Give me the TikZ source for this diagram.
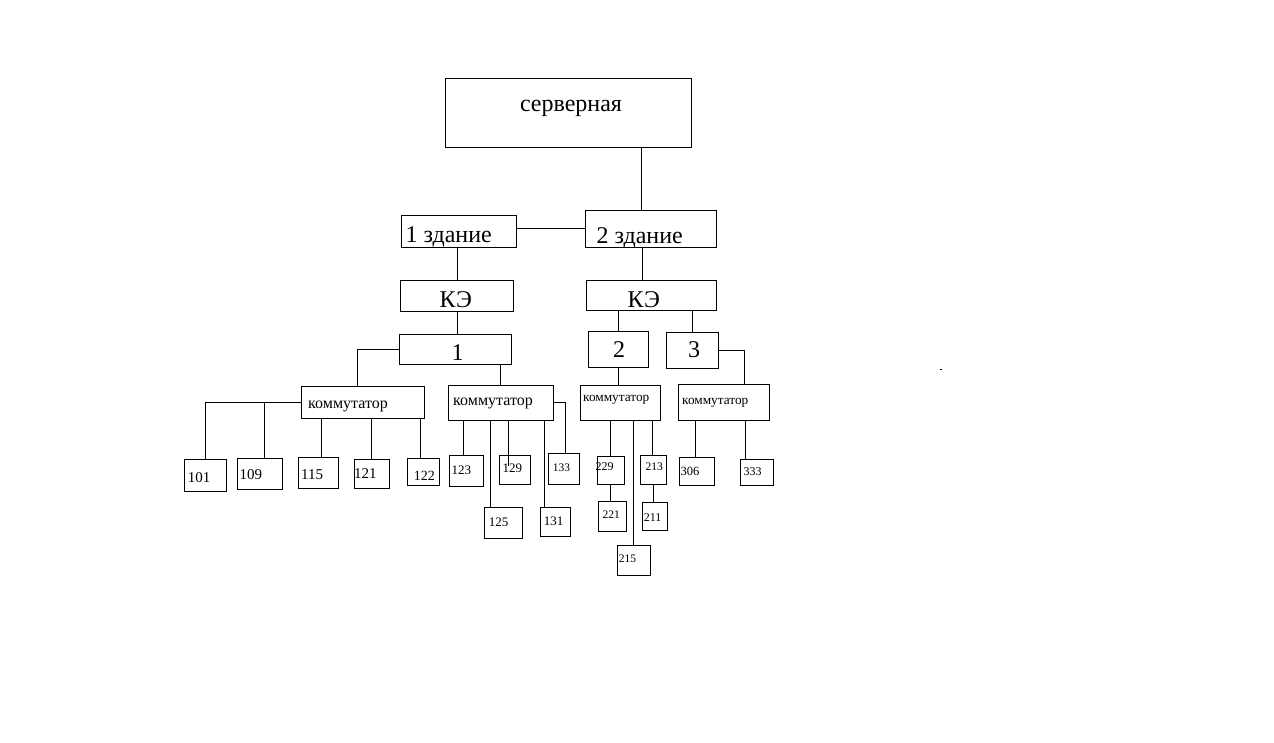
\documentclass[tikz,border=0pt]{standalone}
\usepackage{fontspec}
\setmainfont{Liberation Serif}
\usetikzlibrary{fit}
\begin{document}
\begin{tikzpicture}[x=1pt, y=-1pt, line width=1pt,
    cell/.style={draw, inner sep=0pt},
    lbl/.style={inner sep=0pt, font=\fontsize{#1}{#1}\selectfont}]
    \useasboundingbox (0,0) rectangle (1274,742);
    % server room, buildings, KE
    \node[cell, fit={(445,78) (691,147)}] (srv) {}; \node[lbl=24, anchor=base] (srvT) at (571,111) {серверная};
    \node[cell, fit={(401.7,215.3) (516.3,247.3)}] (zd1) {}; \node[lbl=24, anchor=base west] (zd1T) at (405,242.5) {1 здание};
    \node[cell, fit={(585.7,210.3) (716.3,247.3)}] (zd2) {}; \node[lbl=24, anchor=base west] (zd2T) at (596,243) {2 здание};
    \node[cell, fit={(400.7,280.3) (513.3,311)}] (ke1) {}; \node[lbl=24, anchor=base] (ke1T) at (455.8,307) {КЭ};
    \node[cell, fit={(586.3,280.3) (716.3,310.3)}] (ke2) {}; \node[lbl=24, anchor=base] (ke2T) at (643.8,307) {КЭ};
    \node[cell, fit={(399.3,334.7) (511.7,364.3)}] (g1) {}; \node[lbl=24, anchor=base] (g1T) at (457.5,360) {1};
    \node[cell, fit={(588.3,331.7) (648.3,367.3)}] (g2) {}; \node[lbl=24, anchor=base] (g2T) at (619,357) {2};
    \node[cell, fit={(666.3,332.3) (718.3,368.3)}] (g3) {}; \node[lbl=24, anchor=base] (g3T) at (694,357.7) {3};
    % switches
    \node[cell, fit={(301.3,386.3) (424.3,418.3)}] (k1) {}; \node[lbl=16, anchor=base west] (k1T) at (307.7,408.3) {коммутатор};
    \node[cell, fit={(448.3,385.3) (553.3,420.3)}] (k2) {}; \node[lbl=16, anchor=base west] (k2T) at (452.7,405) {коммутатор};
    \node[cell, fit={(580.3,385.3) (660.3,420)}] (k3) {}; \node[lbl=13.3, anchor=base west] (k3T) at (582.7,401.7) {коммутатор};
    \node[cell, fit={(678.3,384.3) (769.3,420.3)}] (k4) {}; \node[lbl=13.3, anchor=base west] (k4T) at (681.7,404) {коммутатор};
    % rooms
    \node[cell, fit={(184.3,459.3) (226.3,491.3)}] (r101) {}; \node[lbl=15, anchor=base west] (r101T) at (187.3,482.7) {101};
    \node[cell, fit={(237.3,458.3) (282.3,489.3)}] (r109) {}; \node[lbl=15, anchor=base west] (r109T) at (239,479.3) {109};
    \node[cell, fit={(298.3,457.3) (338.3,488.3)}] (r115) {}; \node[lbl=15, anchor=base west] (r115T) at (300.7,479.3) {115};
    \node[cell, fit={(354.3,459.3) (389.3,488.3)}] (r121) {}; \node[lbl=15, anchor=base west] (r121T) at (353.7,478.3) {121};
    \node[cell, fit={(407.3,458.3) (439.3,485.3)}] (r122) {}; \node[lbl=14, anchor=base west] (r122T) at (413.3,480) {122};
    \node[cell, fit={(449.3,455.3) (483.3,486)}] (r123) {}; \node[lbl=13, anchor=base west] (r123T) at (451,474) {123};
    \node[cell, fit={(499.3,455.3) (530.3,484.3)}] (r129) {}; \node[lbl=13, anchor=base west] (r129T) at (502,472.7) {129};
    \node[cell, fit={(548.3,453.3) (579.3,484.3)}] (r133) {}; \node[lbl=11.5, anchor=base west] (r133T) at (552.3,471.7) {133};
    \node[cell, fit={(484.3,507.3) (522.3,538.3)}] (r125) {}; \node[lbl=13, anchor=base west] (r125T) at (488.3,526.7) {125};
    \node[cell, fit={(540.3,507.3) (570.3,536)}] (r131) {}; \node[lbl=13, anchor=base west] (r131T) at (543.3,525.7) {131};
    \node[cell, fit={(597.3,456) (624.3,484.3)}] (r229) {}; \node[lbl=12, anchor=base west] (r229T) at (595,470.7) {229};
    \node[cell, fit={(598.3,501.3) (626.3,531)}] (r221) {}; \node[lbl=11.5, anchor=base west] (r221T) at (602,518.3) {221};
    \node[cell, fit={(640.3,455.3) (666.3,484.3)}] (r213) {}; \node[lbl=11.5, anchor=base west] (r213T) at (645,470.7) {213};
    \node[cell, fit={(642.3,502.3) (667.3,530.3)}] (r211) {}; \node[lbl=12, anchor=base west] (r211T) at (643.3,521) {211};
    \node[cell, fit={(617.3,545.3) (650.3,575.3)}] (r215) {}; \node[lbl=11.5, anchor=base west] (r215T) at (618.3,562.3) {215};
    \node[cell, fit={(679.3,457.3) (714.3,485.3)}] (r306) {}; \node[lbl=12.5, anchor=base west] (r306T) at (680,475) {306};
    \node[cell, fit={(740.3,459.3) (773.3,485.3)}] (r333) {}; \node[lbl=12, anchor=base west] (r333T) at (743,475) {333};
    % links
    \draw ([xshift=-10pt]zd2.north) -- ([xshift=-10pt]zd2.north |- srv.south);
    \draw (zd2.west) -- (zd2.west -| zd1.east);
    \draw (ke1.north) -- (ke1.north |- zd1.south);
    \draw ([xshift=-9pt]ke2.north) -- ([xshift=-9pt]ke2.north |- zd2.south);
    \draw (ke1.south) -- (ke1.south |- g1.north);
    \draw (g2.north) -- (g2.north |- ke2.south);
    \draw (g3.north) -- (g3.north |- ke2.south);
    \draw (g1.west) -| ([xshift=-5pt]k1.north);
    \draw (k2.north) -- (k2.north |- g1.south);
    \draw (g2.south) -- (g2.south |- k3.north);
    \draw (g3.east) -| ([xshift=21pt]k4.north);
    \draw (k1.west) -| (r101.north);
    \draw ([xshift=4.5pt]r109.north) -- ([xshift=4.5pt]r109.north |- k1.west);
    \draw ([xshift=3pt]r115.north) -- ([xshift=3pt]r115.north |- k1.south);
    \draw (r121.north) -- (r121.north |- k1.south);
    \draw ([xshift=-3pt]r122.north) -- ([xshift=-3pt]r122.north |- k1.south);
    \draw ([xshift=-2.6pt]r123.north) -- ([xshift=-2.6pt]r123.north |- k2.south);
    \draw ([xshift=-13pt]r125.north) -- ([xshift=-13pt]r125.north |- k2.south);
    \draw ([xshift=-6pt,yshift=-11pt]r129.north) -- ([xshift=-6pt]r129.north |- k2.south);
    \draw ([xshift=-11pt]r131.north) -- ([xshift=-11pt]r131.north |- k2.south);
    \draw (k2.east) -| ([xshift=2pt]r133.north);
    \draw (r229.north) -- (r229.north |- k3.south);
    \draw (r215.north) -- (r215.north |- k3.south);
    \draw ([xshift=-1pt]r213.north) -- ([xshift=-1pt]r213.north |- k3.south);
    \draw (r229.south) -- (r229.south |- r221.north);
    \draw (r213.south) -- (r213.south |- r211.north);
    \draw ([xshift=-1.5pt]r306.north) -- ([xshift=-1.5pt]r306.north |- k4.south);
    \draw ([xshift=-11pt]r333.north) -- ([xshift=-11pt]r333.north |- k4.south);
    \fill (939.5,368.5) rectangle (941.5,370);
\end{tikzpicture}
\end{document}
